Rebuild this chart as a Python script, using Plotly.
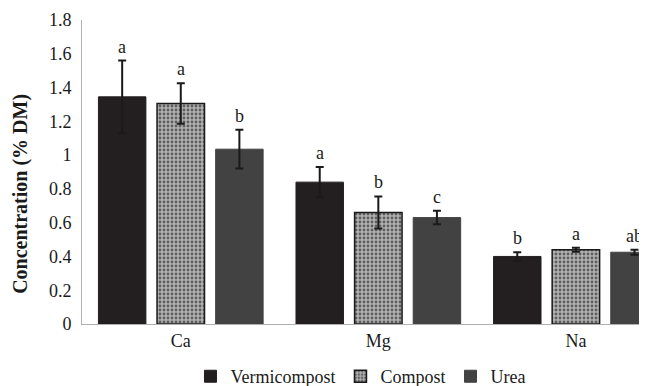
import plotly.graph_objects as go

categories = ["Ca", "Mg", "Na"]
vermicompost = [1.345, 0.84, 0.40]
compost = [1.305, 0.66, 0.44]
urea = [1.035, 0.63, 0.425]
err_vermi = [0.215, 0.09, 0.025]
err_compost = [0.12, 0.095, 0.012]
err_urea = [0.115, 0.04, 0.015]
letters_vermi = ["a", "a", "b"]
letters_compost = ["a", "b", "a"]
letters_urea = ["b", "c", "ab"]
y_title = "Concentration (% DM)"

FONT = "Liberation Serif, Times New Roman, serif"
bargap = 0.11
slot = (1 - bargap) / 3

fig = go.Figure()
series = [
    ("Vermicompost", vermicompost, err_vermi, letters_vermi, dict(color="#231f20", line=dict(color="#231f20", width=1))),
    ("Compost", compost, err_compost, letters_compost,
     dict(color="#9a9a9a", line=dict(color="#1a1a1a", width=1.5),
          pattern=dict(shape=".", fgcolor="#5e5e5e", bgcolor="#b2b2b2", size=4, solidity=0.4, fillmode="replace"))),
    ("Urea", urea, err_urea, letters_urea, dict(color="#424242", line=dict(color="#424242", width=1))),
]
xs = list(range(len(categories)))
for i, (name, vals, errs, letters, marker) in enumerate(series):
    fig.add_trace(go.Bar(
        name=name, x=xs, y=vals, marker=marker,
        error_y=dict(type="data", array=errs, visible=True, color="#1a1a1a", thickness=2, width=4),
    ))
    off = (i - 1) * slot
    for j, (v, e, l) in enumerate(zip(vals, errs, letters)):
        fig.add_annotation(x=xs[j] + off, y=v + e, text=l, showarrow=False,
                           yanchor="bottom", yshift=2,
                           font=dict(family=FONT, size=18, color="#1a1a1a"))

fig.add_annotation(text="<b>" + y_title + "</b>", xref="paper", yref="paper",
                   x=-0.108, y=0.428, textangle=-90, showarrow=False,
                   xanchor="center", yanchor="middle",
                   font=dict(family=FONT, size=20, color="#1a1a1a"))

fig.update_layout(
    width=639, height=378,
    margin=dict(l=74, r=0, t=12, b=62, autoexpand=False),
    paper_bgcolor="white", plot_bgcolor="white",
    barmode="group", bargap=bargap, bargroupgap=0.19,
    font=dict(family=FONT, size=18, color="#1a1a1a"),
    showlegend=True,
    legend=dict(orientation="h", x=0.192, xanchor="left", y=-0.112, yanchor="top",
                font=dict(family=FONT, size=18, color="#1a1a1a")),
    xaxis=dict(range=[-0.5, 2.36], tickvals=xs, ticktext=categories, showline=True,
               linecolor="#b0b0b0", linewidth=1, showgrid=False, ticks="",
               tickfont=dict(family=FONT, size=18), automargin=False),
    yaxis=dict(range=[0, 1.8], dtick=0.2, showline=True, linecolor="#b0b0b0", linewidth=1,
               showgrid=False, ticks="", zeroline=False, automargin=False,
               ticklabelstandoff=6,
               tickfont=dict(family=FONT, size=18)),
)
fig.write_html("out.html")
